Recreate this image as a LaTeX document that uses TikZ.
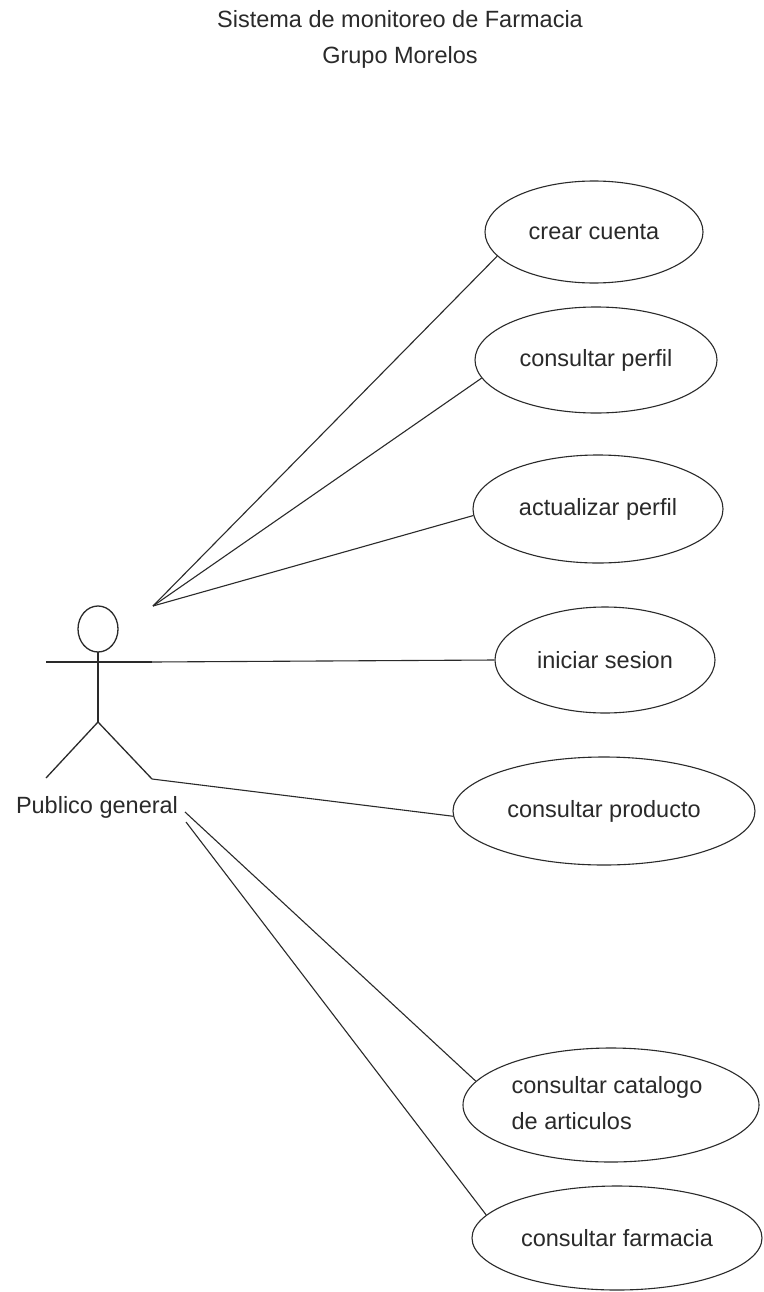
\documentclass[tikz,border=0pt]{standalone}
\usepackage{fontspec}
\setmainfont{Liberation Sans}
\usetikzlibrary{shapes.geometric}
\definecolor{ink}{HTML}{2A2A2A}
\begin{document}
\begin{tikzpicture}[x=1pt,y=-1pt,
  every node/.style={text=ink,font=\fontsize{23.5}{36}\selectfont},
  usecase/.style={ellipse,draw=ink,line width=1.1pt,inner sep=0pt},
  link/.style={draw=ink,line width=1.1pt},
  limb/.style={draw=ink,line width=1.3pt}]
\useasboundingbox[fill=white] (0,0) rectangle (763,1292);

% title
\node[align=center] (title) at (400,39) {Sistema de monitoreo de Farmacia\\Grupo Morelos};

% actor: Publico general
\draw[limb] (98,629) ellipse[x radius=20,y radius=23];
\coordinate (neck) at (98,652);
\coordinate (hip) at (98,722);
\coordinate (lhand) at (46,662);
\coordinate (rhand) at (152,662);
\coordinate (lfoot) at (46,778);
\coordinate (rfoot) at (152,779);
\draw[limb] (neck) -- (hip);
\draw[limb] (lhand) -- (rhand);
\draw[limb] (lfoot) -- (hip) -- (rfoot);
\node (actor) at (97,807) {Publico general};
\coordinate (fan) at (153,606);
\coordinate (out1) at (185,812);
\coordinate (out2) at (186,822);

% use cases
\node[usecase,minimum width=218,minimum height=102] (crear) at (594,232) {crear cuenta};
\node[usecase,minimum width=242,minimum height=106] (perfil) at (596,360) {consultar perfil};
\node[usecase,minimum width=250,minimum height=108] (actualizar) at (598,509) {actualizar perfil};
\node[usecase,minimum width=220,minimum height=106] (iniciar) at (605,660) {iniciar sesion};
\node[usecase,minimum width=302,minimum height=108] (producto) at (604,811) {consultar producto};
\node[usecase,minimum width=296,minimum height=114] (catalogo) at (611,1105) {};
\node[align=left] (catalogotxt) at (607,1103) {consultar catalogo\\de articulos};
\node[usecase,minimum width=290,minimum height=104] (farmacia) at (617,1238) {consultar farmacia};

% associations
\draw[link] (fan) -- (crear.194);
\draw[link] (fan) -- (perfil.189);
\draw[link] (fan) -- (actualizar.183);
\draw[link] (rhand) -- (iniciar.west);
\draw[link] (rfoot) -- (producto.182);
\draw[link] (out1) -- (catalogo.170);
\draw[link] (out2) -- (farmacia.170);
\end{tikzpicture}
\end{document}
